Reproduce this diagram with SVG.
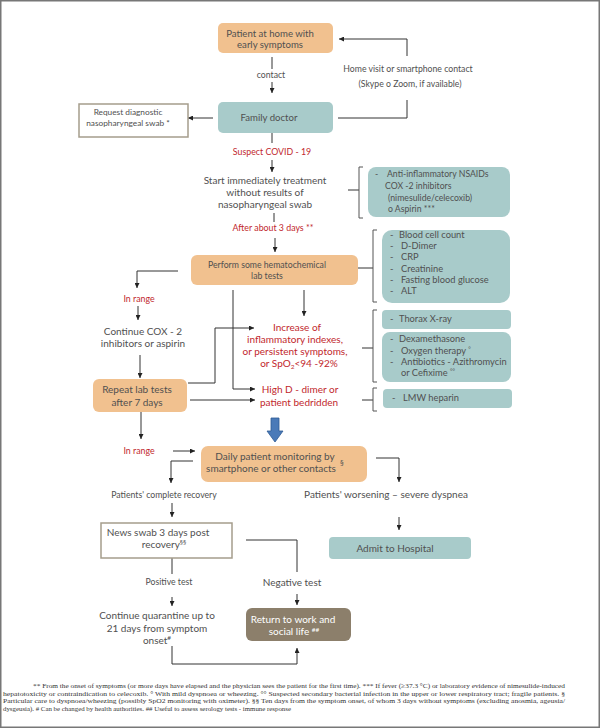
<svg xmlns="http://www.w3.org/2000/svg" width="600" height="728" viewBox="0 0 600 728">
<style>
.t{font-family:Lato,"Open Sans",sans-serif;font-size:9.6px;fill:#505050}
.s{font-size:8.7px}
.l{font-size:9.3px}
.b{font-size:10px}
.m{text-anchor:middle}
.r{fill:#c1272d;font-size:10px}
.w{fill:#fff}
.or{fill:#f1c18f}
.tl{fill:#a8cbca}
.wb{fill:#fff;stroke:#a59d8c;stroke-width:1.5}
.ln{fill:none;stroke:#333;stroke-width:1}
.br{fill:none;stroke:#555;stroke-width:1}
.fn{font-family:"Liberation Serif","Times New Roman",serif;font-size:6.8px;fill:#333}
</style>
<defs>
<marker id="a" viewBox="0 0 6 6" refX="6" refY="3" markerWidth="5" markerHeight="5" orient="auto" markerUnits="userSpaceOnUse"><path d="M0,0L6,3L0,6z" fill="#222"/></marker>
</defs>
<rect x="0.75" y="0.75" width="598.5" height="726.5" fill="#fff" stroke="#777" stroke-width="1.5"/>

<g id="connectors">
<path class="ln" d="M272,57V69"/>
<path class="ln" d="M272,82V93" marker-end="url(#a)"/>
<path class="ln" d="M338,118H407V100"/>
<path class="ln" d="M407,56V39H339" marker-end="url(#a)"/>
<path class="ln" d="M213,118H188" marker-end="url(#a)"/>
<path class="ln" d="M272,133V143"/>
<path class="ln" d="M272,160V172" marker-end="url(#a)"/>
<path class="ln" d="M274,213V222"/>
<path class="ln" d="M275,238V252" marker-end="url(#a)"/>
<path class="ln" d="M348,190H359"/>
<path class="br" d="M363,167H359V218H363"/>
<path class="ln" d="M358,268H373"/>
<path class="br" d="M377,230H373V302H377"/>
<path class="ln" d="M178,271H137V288" marker-end="url(#a)"/>
<path class="ln" d="M138,306V320" marker-end="url(#a)"/>
<path class="ln" d="M140,355V378" marker-end="url(#a)"/>
<path class="ln" d="M188,383H215V328H254" marker-end="url(#a)"/>
<path class="ln" d="M233,290V389H255" marker-end="url(#a)"/>
<path class="ln" d="M190,400H255" marker-end="url(#a)"/>
<path class="ln" d="M304,290V316" marker-end="url(#a)"/>
<path class="ln" d="M362,348H373"/>
<path class="br" d="M377,310H373V382H377"/>
<path class="ln" d="M362,400H373"/>
<path class="br" d="M377,388H373V411H377"/>
<polygon points="271,418 279,418 279,431 283,431 275,442 267,431 271,431" fill="#4a7ab8" stroke="#2f5a94" stroke-width="0.8"/>
<path class="ln" d="M141,412V439" marker-end="url(#a)"/>
<path class="ln" d="M173,451H195" marker-end="url(#a)"/>
<path class="ln" d="M193,461H171V483" marker-end="url(#a)"/>
<path class="ln" d="M172,503V517" marker-end="url(#a)"/>
<path class="ln" d="M376,458H399V482" marker-end="url(#a)"/>
<path class="ln" d="M399,517V530" marker-end="url(#a)"/>
<path class="ln" d="M246,540H297V572"/>
<path class="ln" d="M297,594V605" marker-end="url(#a)"/>
<path class="ln" d="M172,558V574"/>
<path class="ln" d="M172,597V606" marker-end="url(#a)"/>
<path class="ln" d="M172,646V664H297V648" marker-end="url(#a)"/>
</g>

<g id="patient">
<rect class="or" x="218" y="23" width="115" height="30" rx="5"/>
<text class="t m" x="270" y="37">Patient at home with</text>
<text class="t m" x="270" y="48">early symptoms</text>
</g>
<g id="lbl-contact"><text class="t m s" x="271" y="78">contact</text></g>
<g id="lbl-home">
<text class="t m s" x="408" y="72">Home visit or smartphone contact</text>
<text class="t m s" x="410" y="87">(Skype o Zoom, if available)</text>
</g>
<g id="doctor">
<rect class="tl" x="218" y="102" width="115" height="31" rx="5"/>
<text class="t m" x="269" y="121">Family doctor</text>
</g>
<g id="request">
<rect class="wb" x="79" y="104" width="109" height="33"/>
<text class="t m" x="128" y="115" style="font-size:8.3px">Request diagnostic</text>
<text class="t m" x="128" y="126" style="font-size:8.3px">nasopharyngeal swab *</text>
</g>
<g id="lbl-suspect"><text class="t m r s" x="272" y="155" style="font-size:8.8px">Suspect COVID - 19</text></g>
<g id="start">
<text class="t m b" x="265" y="184">Start immediately treatment</text>
<text class="t m b" x="265" y="196">without results of</text>
<text class="t m b" x="265" y="208">nasopharyngeal swab</text>
</g>
<g id="lbl-after"><text class="t m r" x="273" y="231" style="font-size:8.8px">After about 3 days **</text></g>
<g id="nsaid">
<rect class="tl" x="368" y="167" width="142" height="50" rx="8"/>
<text class="t s" x="375" y="177">-</text>
<text class="t s" x="387" y="177">Anti-inflammatory NSAIDs</text>
<text class="t s" x="385" y="189">COX  -2 inhibitors</text>
<text class="t s" x="388" y="201">(nimesulide/celecoxib)</text>
<text class="t s" x="388" y="212">o Aspirin ***</text>
</g>
<g id="labtests">
<rect class="or" x="191" y="255" width="167" height="30" rx="6"/>
<text class="t m s" x="267" y="268">Perform some hematochemical</text>
<text class="t m s" x="267" y="279">lab tests</text>
</g>
<g id="blood">
<rect class="tl" x="382" y="230" width="128" height="73" rx="10"/>
<text class="t l" x="390" y="238">-</text><text class="t l" x="399" y="238">Blood cell count</text>
<text class="t l" x="390" y="249">-</text><text class="t l" x="401" y="249">D-Dimer</text>
<text class="t l" x="390" y="260">-</text><text class="t l" x="401" y="260">CRP</text>
<text class="t l" x="390" y="272">-</text><text class="t l" x="401" y="272">Creatinine</text>
<text class="t l" x="390" y="283">-</text><text class="t l" x="401" y="283">Fasting blood glucose</text>
<text class="t l" x="390" y="294">-</text><text class="t l" x="401" y="294">ALT</text>
</g>
<g id="lbl-inrange1"><text class="t m r" x="139" y="302" style="font-size:8.8px">In range</text></g>
<g id="continue">
<text class="t m b" x="143" y="335">Continue COX - 2</text>
<text class="t m b" x="143" y="347">inhibitors or aspirin</text>
</g>
<g id="repeat">
<rect class="or" x="93" y="379" width="94" height="33" rx="6"/>
<text class="t m b" x="137" y="393">Repeat lab tests</text>
<text class="t m b" x="137" y="406">after 7 days</text>
</g>
<g id="increase">
<text class="t m r" x="297" y="331">Increase of</text>
<text class="t m r" x="295" y="343">inflammatory indexes,</text>
<text class="t m r" x="295" y="355">or persistent symptoms,</text>
<text class="t m r" x="299" y="367">or  SpO<tspan font-size="6.5" dy="2">2</tspan><tspan dy="-2">&lt;94 -92%</tspan></text>
</g>
<g id="thorax">
<rect class="tl" x="382" y="310" width="129" height="19" rx="4"/>
<text class="t l" x="390" y="322">-</text><text class="t l" x="399" y="322">Thorax  X-ray</text>
</g>
<g id="dexa">
<rect class="tl" x="382" y="332" width="129" height="50" rx="8"/>
<text class="t l" x="390" y="342">-</text><text class="t l" x="399" y="342">Dexamethasone</text>
<text class="t l" x="390" y="354">-</text><text class="t l" x="401" y="354">Oxygen  therapy <tspan font-size="6" dy="-3">°</tspan></text>
<text class="t l" x="390" y="365">-</text><text class="t l" x="401" y="365">Antibiotics - Azithromycin</text>
<text class="t l" x="401" y="376">or Cefixime <tspan font-size="6" dy="-3">°°</tspan></text>
</g>
<g id="ddimer">
<text class="t m r" x="300" y="393">High D - dimer or</text>
<text class="t m r" x="299" y="406">patient bedridden</text>
</g>
<g id="lmw">
<rect class="tl" x="383" y="389" width="129" height="19" rx="4"/>
<text class="t l" x="392" y="401">-</text><text class="t l" x="403" y="401">LMW  heparin</text>
</g>
<g id="lbl-inrange2"><text class="t m r" x="139" y="454" style="font-size:8.8px">In range</text></g>
<g id="daily">
<rect class="or" x="201" y="446" width="166" height="36" rx="7"/>
<text class="t m b" x="275" y="460">Daily patient monitoring by</text>
<text class="t m b" x="271" y="472">smartphone or other contacts</text>
<text class="t" x="340" y="466" style="font-size:7.5px">§</text>
</g>
<g id="recovery"><text class="t m s" x="164" y="498">Patients' complete recovery</text></g>
<g id="worsening"><text class="t m b" x="386" y="498">Patients' worsening – severe dyspnea</text></g>
<g id="admit">
<rect class="tl" x="329" y="537" width="142" height="22" rx="4"/>
<text class="t m b" x="395" y="552">Admit to Hospital</text>
</g>
<g id="swab">
<rect class="wb" x="101" y="523" width="131" height="35"/>
<text class="t m b" x="158" y="536">News swab 3 days post</text>
<text class="t m b" x="164" y="548">recovery<tspan font-size="6.5" dy="-4">§§</tspan></text>
</g>
<g id="lbl-neg"><text class="t m b" x="292" y="586">Negative test</text></g>
<g id="lbl-pos"><text class="t m s" x="169" y="585">Positive test</text></g>
<g id="return">
<rect x="246" y="608" width="105" height="33" rx="6" fill="#8c7f6b"/>
<text class="t m b w" x="293" y="623">Return to work and</text>
<text class="t m b w" x="294" y="635">social life <tspan font-size="6.5" dy="-3">##</tspan></text>
</g>
<g id="quarantine">
<text class="t m b" x="157" y="619">Continue quarantine up to</text>
<text class="t m b" x="157" y="632">21 days from symptom</text>
<text class="t m b" x="157" y="644">onset<tspan font-size="6.5" dy="-4">#</tspan></text>
</g>
<g id="footnote">
<text class="fn" x="33" y="688" textLength="532" lengthAdjust="spacingAndGlyphs">** From the onset of symptoms (or more days have elapsed and the physician sees the patient for the first time). *** If fever (≥37.3 °C) or laboratory evidence of nimesulide-induced</text>
<text class="fn" x="3" y="695.5" textLength="562" lengthAdjust="spacingAndGlyphs">hepatotoxicity or contraindication to celecoxib. ° With mild dyspnoea or wheezing. °° Suspected secondary bacterial infection in the upper or lower respiratory tract; fragile patients. §</text>
<text class="fn" x="3" y="703" textLength="562" lengthAdjust="spacingAndGlyphs">Particular care to dyspnoea/wheezing (possibly SpO2 monitoring with oximeter). §§ Ten days from the symptom onset, of whom 3 days without symptoms (excluding anosmia, ageusia/</text>
<text class="fn" x="3" y="710.5" textLength="288" lengthAdjust="spacingAndGlyphs">dysgeusia). # Can be changed by health authorities. ## Useful to assess serology tests - immune response</text>
</g>
</svg>
